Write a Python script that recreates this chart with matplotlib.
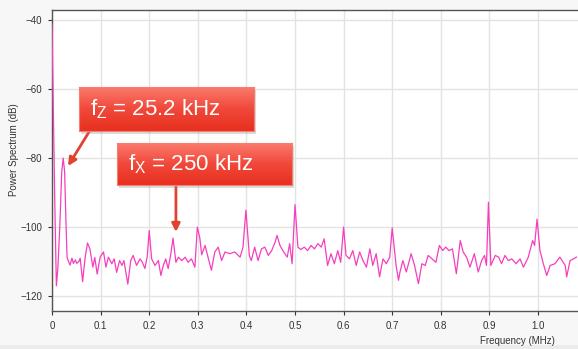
import numpy as np
import matplotlib
matplotlib.use('Agg')
import matplotlib.pyplot as plt
from matplotlib.patches import Rectangle
from matplotlib.colors import LinearSegmentedColormap

plt.rcParams['font.family'] = ['Liberation Sans', 'DejaVu Sans']
plt.rcParams['mathtext.fontset'] = 'custom'
plt.rcParams['mathtext.rm'] = 'Liberation Sans'

# spectrum (MHz, dB)
freq = [0.000, 0.002, 0.006, 0.009, 0.012, 0.016, 0.020, 0.023, 0.026, 0.029, 0.031,
        0.034, 0.037, 0.041, 0.044, 0.048, 0.051, 0.055, 0.058, 0.063, 0.068, 0.073,
        0.078, 0.084, 0.088, 0.093, 0.099, 0.106, 0.111, 0.116, 0.123, 0.128, 0.133,
        0.139, 0.144, 0.148, 0.156, 0.162, 0.167, 0.174, 0.181, 0.186, 0.191, 0.196,
        0.200, 0.205, 0.212, 0.219, 0.224, 0.229, 0.234, 0.239, 0.244, 0.249, 0.255,
        0.260, 0.267, 0.274, 0.280, 0.287, 0.294, 0.299, 0.304, 0.308, 0.315, 0.321,
        0.328, 0.335, 0.342, 0.349, 0.356, 0.366, 0.376, 0.387, 0.393, 0.399, 0.406,
        0.410, 0.417, 0.424, 0.431, 0.438, 0.445, 0.452, 0.459, 0.463, 0.469, 0.475,
        0.484, 0.489, 0.494, 0.500, 0.506, 0.512, 0.519, 0.526, 0.533, 0.540, 0.547,
        0.554, 0.560, 0.567, 0.574, 0.581, 0.588, 0.594, 0.600, 0.605, 0.612, 0.619,
        0.626, 0.633, 0.640, 0.647, 0.654, 0.660, 0.667, 0.674, 0.681, 0.688, 0.695,
        0.700, 0.708, 0.713, 0.716, 0.722, 0.729, 0.739, 0.746, 0.754, 0.761, 0.768,
        0.774, 0.782, 0.790, 0.797, 0.804, 0.810, 0.817, 0.824, 0.832, 0.840, 0.846,
        0.853, 0.860, 0.869, 0.877, 0.884, 0.890, 0.894, 0.898, 0.903, 0.912, 0.919,
        0.925, 0.932, 0.939, 0.946, 0.955, 0.963, 0.970, 0.980, 0.989, 0.993, 0.998,
        1.004, 1.011, 1.018, 1.025, 1.035, 1.045, 1.056, 1.059, 1.066, 1.073, 1.079]
power = [-41.5, -60.0, -95.0, -117.0, -112.0, -100.0, -84.0, -80.0, -84.0, -100.0, -108.7,
         -110.0, -111.0, -109.0, -110.5, -109.5, -110.5, -110.0, -109.0, -115.8, -109.0, -104.6,
         -106.3, -111.6, -108.8, -113.6, -108.7, -107.2, -111.6, -108.7, -110.6, -109.2, -113.1,
         -109.7, -111.1, -109.7, -116.5, -109.7, -108.2, -111.1, -109.2, -110.2, -112.0, -108.5,
         -101.0, -109.2, -111.1, -109.7, -114.0, -111.1, -109.2, -112.0, -108.2, -103.2, -110.2,
         -108.7, -109.7, -108.7, -110.2, -109.2, -111.6, -100.0, -103.0, -108.0, -105.3, -108.7,
         -112.5, -107.2, -105.8, -109.7, -107.2, -107.7, -107.2, -108.7, -105.8, -95.1, -108.2,
         -109.7, -105.8, -109.7, -106.3, -105.8, -108.2, -106.8, -104.4, -102.4, -105.3, -106.8,
         -108.7, -104.8, -110.6, -93.5, -105.8, -106.5, -105.8, -106.8, -105.3, -106.3, -104.8,
         -105.8, -103.4, -111.1, -107.7, -110.6, -106.8, -110.2, -100.0, -108.2, -109.2, -106.8,
         -111.1, -107.2, -109.7, -111.6, -106.3, -111.1, -107.7, -114.4, -109.2, -110.6, -108.7,
         -100.2, -111.1, -115.4, -113.0, -109.7, -113.0, -107.7, -111.1, -116.4, -110.6, -111.1,
         -108.2, -109.2, -110.2, -105.3, -106.8, -105.8, -106.8, -106.3, -113.5, -103.9, -107.2,
         -108.7, -111.6, -107.7, -113.0, -109.7, -108.2, -111.1, -92.8, -111.1, -108.2, -108.7,
         -110.6, -108.2, -109.7, -109.2, -110.6, -109.2, -111.6, -108.7, -103.9, -105.3, -97.7,
         -106.8, -110.6, -114.0, -111.1, -110.6, -108.7, -111.1, -114.4, -109.7, -109.2, -108.7]

xticks = [0, 0.1, 0.2, 0.3, 0.4, 0.5, 0.6, 0.7, 0.8, 0.9, 1.0]
xticklabels = ['0', '0.1', '0.2', '0.3', '0.4', '0.5', '0.6', '0.7', '0.8', '0.9', '1.0']
yticks = [-120, -100, -80, -60, -40]

W, H = 578, 349
fig = plt.figure(figsize=(W / 100, H / 100), dpi=100)
fig.patch.set_facecolor('#f7f7f7')
fig.patches.append(Rectangle((0, 0), 1, 4 / H, transform=fig.transFigure,
                             facecolor='#ececec', edgecolor='none'))

ax = fig.add_axes([52 / W, 38 / H, (W - 52) / W, 301 / H])
ax.set_facecolor('white')
ax.plot(freq, power, color='#f53fbd', lw=0.9, zorder=3)
ax.set_xlim(0, (W - 52) / 486)
ax.set_ylim(-124.3, -37.1)
ax.set_xticks(xticks)
ax.set_xticklabels(xticklabels)
ax.set_yticks(yticks)
ax.grid(True, color='#e3e3e3', lw=1.0)
ax.set_axisbelow(True)
for s in ['left', 'bottom', 'top']:
    ax.spines[s].set_color('#555555')
    ax.spines[s].set_linewidth(1.0)
ax.spines['right'].set_visible(False)
ax.tick_params(axis='both', labelsize=7, colors='#333333', length=3, width=0.8, pad=4)
fig.text(14 / W, 1 - 150 / H, 'Power Spectrum (dB)', rotation=90, fontsize=7,
         color='#333333', ha='center', va='center')
fig.text(555 / W, 1 - 341 / H, 'Frequency (MHz)', fontsize=7, color='#333333',
         ha='right', va='center')

# arrows
arrow_color = '#e0432f'
ax.annotate('', xy=(0.033, -82.3), xytext=(0.078, -72.0),
            arrowprops=dict(arrowstyle='-|>', color=arrow_color, lw=2, mutation_scale=12,
                            shrinkA=0, shrinkB=0), zorder=4)
ax.annotate('', xy=(0.255, -101.4), xytext=(0.255, -87.5),
            arrowprops=dict(arrowstyle='-|>', color=arrow_color, lw=2, mutation_scale=12,
                            shrinkA=0, shrinkB=0), zorder=4)

# red callout boxes with a soft gradient and a shadow
grad = np.linspace(0, 1, 64).reshape(-1, 1)
cmap = LinearSegmentedColormap.from_list('red', ['#e8301f', '#f0483a', '#fb7a6c'])


def callout(x0, y0, x1, y1, label, tx):
    sh = fig.add_axes([(x0 + 2) / W, 1 - (y1 + 3) / H, (x1 - x0) / W, (y1 - y0) / H])
    sh.set_facecolor('#9a9a9a')
    sh.patch.set_alpha(0.35)
    sh.set_xticks([])
    sh.set_yticks([])
    for s in sh.spines.values():
        s.set_visible(False)
    sh.set_zorder(8)
    bx = fig.add_axes([x0 / W, 1 - y1 / H, (x1 - x0) / W, (y1 - y0) / H])
    bx.imshow(grad, aspect='auto', cmap=cmap, extent=[0, 1, 0, 1], origin='lower')
    bx.set_xlim(0, 1)
    bx.set_ylim(0, 1)
    bx.set_xticks([])
    bx.set_yticks([])
    for s in bx.spines.values():
        s.set_color('#f47e72')
        s.set_linewidth(0.8)
    bx.set_zorder(9)
    bx.text((tx - x0) / (x1 - x0), 0.5, label, color='white', fontsize=16,
            ha='left', va='center')


callout(79, 87, 254, 131, r'f$_{\mathrm{Z}}$ = 25.2 kHz', 90)
callout(117, 143, 292, 185, r'f$_{\mathrm{X}}$ = 250 kHz', 128)

fig.savefig('out.png', dpi=100, facecolor=fig.get_facecolor())
